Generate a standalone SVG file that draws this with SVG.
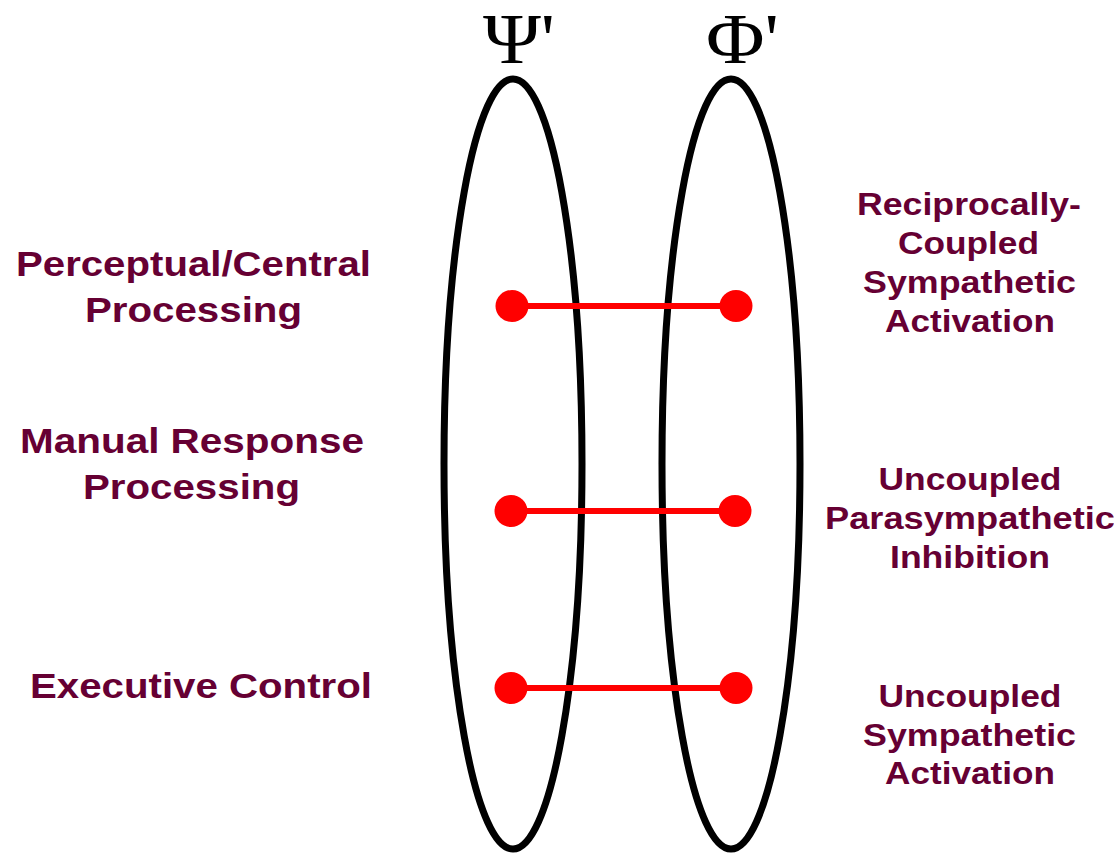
<svg xmlns="http://www.w3.org/2000/svg" width="1114" height="855" viewBox="0 0 1114 855">
<style>
.lbl{font-family:"Liberation Sans",Arial,sans-serif;font-weight:bold;fill:#660033;text-anchor:middle}
.l{font-size:35px}
.r{font-size:32px}
.ttl{font-family:"Liberation Serif","Times New Roman",serif;font-size:72px;fill:#000;text-anchor:start}
.ell{fill:none;stroke:#000;stroke-width:7}
.link{stroke:#ff0000;stroke-width:6}
.dot{fill:#ff0000}
</style>
<rect width="1114" height="855" fill="#fff"/>
<g id="psi">
<ellipse class="ell" cx="513" cy="464" rx="69" ry="385"/>
<text class="ttl" x="483" y="63" textLength="72" lengthAdjust="spacingAndGlyphs">Ψ'</text>
</g>
<g id="phi">
<ellipse class="ell" cx="731" cy="464" rx="69" ry="385"/>
<text class="ttl" x="706" y="63" textLength="73" lengthAdjust="spacingAndGlyphs">Φ'</text>
</g>
<g id="labels-left">
<text class="lbl l" x="193.5" y="276" textLength="355" lengthAdjust="spacingAndGlyphs">Perceptual/Central</text>
<text class="lbl l" x="193.5" y="322" textLength="217" lengthAdjust="spacingAndGlyphs">Processing</text>
<text class="lbl l" x="192" y="453" textLength="344" lengthAdjust="spacingAndGlyphs">Manual Response</text>
<text class="lbl l" x="191.5" y="499" textLength="217" lengthAdjust="spacingAndGlyphs">Processing</text>
<text class="lbl l" x="201" y="698" textLength="342" lengthAdjust="spacingAndGlyphs">Executive Control</text>
</g>
<g id="labels-right">
<text class="lbl r" x="969" y="215" textLength="224" lengthAdjust="spacingAndGlyphs">Reciprocally-</text>
<text class="lbl r" x="968.5" y="254" textLength="141" lengthAdjust="spacingAndGlyphs">Coupled</text>
<text class="lbl r" x="969.5" y="293" textLength="213" lengthAdjust="spacingAndGlyphs">Sympathetic</text>
<text class="lbl r" x="970" y="332" textLength="170" lengthAdjust="spacingAndGlyphs">Activation</text>
<text class="lbl r" x="970" y="490" textLength="183" lengthAdjust="spacingAndGlyphs">Uncoupled</text>
<text class="lbl r" x="970" y="529" textLength="290" lengthAdjust="spacingAndGlyphs">Parasympathetic</text>
<text class="lbl r" x="970" y="568" textLength="160" lengthAdjust="spacingAndGlyphs">Inhibition</text>
<text class="lbl r" x="970" y="707" textLength="183" lengthAdjust="spacingAndGlyphs">Uncoupled</text>
<text class="lbl r" x="969.5" y="746" textLength="213" lengthAdjust="spacingAndGlyphs">Sympathetic</text>
<text class="lbl r" x="970" y="784" textLength="170" lengthAdjust="spacingAndGlyphs">Activation</text>
</g>
<g id="connectors">
<line class="link" x1="512" y1="306" x2="736" y2="306"/>
<ellipse class="dot" cx="512" cy="306" rx="16.5" ry="16"/>
<ellipse class="dot" cx="736" cy="306" rx="16.5" ry="16"/>
<line class="link" x1="511" y1="511" x2="735" y2="511"/>
<ellipse class="dot" cx="511" cy="511" rx="16.5" ry="16"/>
<ellipse class="dot" cx="735" cy="511" rx="16.5" ry="16"/>
<line class="link" x1="511" y1="688" x2="736" y2="688"/>
<ellipse class="dot" cx="511" cy="688" rx="16.5" ry="16"/>
<ellipse class="dot" cx="736" cy="688" rx="16.5" ry="16"/>
</g>
</svg>
